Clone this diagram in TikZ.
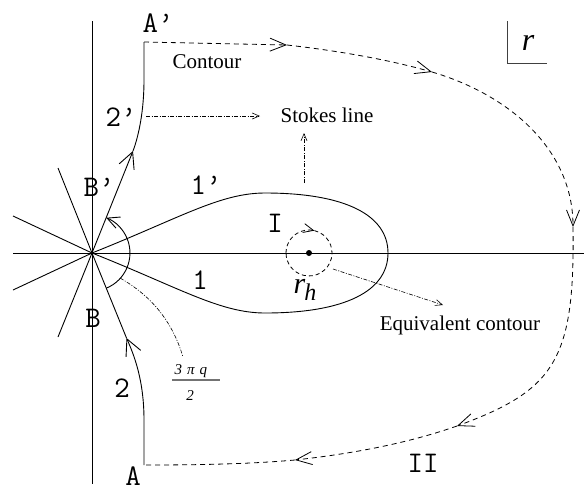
\documentclass[tikz,border=0pt]{standalone}
\usepackage{fontspec}
\setmainfont{Liberation Serif}
\usetikzlibrary{arrows.meta}
\begin{document}
\begin{tikzpicture}[x=1pt,y=-1pt,
  ln/.style={line width=0.9pt},
  dsh/.style={line width=0.8pt, dash pattern=on 5pt off 4pt},
  dshc/.style={line width=0.8pt, dash pattern=on 4pt off 3pt},
  dd/.style={line width=0.6pt, dash pattern=on 4pt off 1.5pt on 1pt off 1.5pt},
  bigtip/.style={-{Straight Barb[length=16pt,width=16pt]}},
  midtip/.style={-{Straight Barb[length=16pt,width=13pt]}},
  arctip/.style={-{Straight Barb[length=12pt,width=12pt]}},
  ctip/.style={-{Straight Barb[length=10pt,width=9pt]}},
  smtip/.style={-{Straight Barb[length=7pt,width=6pt]}},
  lab/.style={font=\ttfamily\fontsize{30}{30}\selectfont, inner sep=0pt},
  txt/.style={font=\fontsize{21}{21}\selectfont, inner sep=0pt},
]
\useasboundingbox (0,0) rectangle (584,491);
\coordinate (O) at (92,253);
\coordinate (Ap) at (144,42);
\coordinate (A) at (144,465);
\coordinate (C) at (309,253);
% axes
\draw[ln] (92,21) -- (92,484);
\draw[ln] (13,253) -- (584,253);
% star lines
\draw[ln] (13,216) -- (O);
\draw[ln] (13,290) -- (O);
\draw[ln] (58,168) -- (O);
\draw[ln] (58,337) -- (O);
% lobe
\draw[ln] (O) .. controls (180,218) and (220,193) .. (265,193)
  .. controls (345,193) and (388,215) .. (388,253)
  .. controls (388,291) and (345,313) .. (265,313)
  .. controls (220,313) and (180,288) .. (O);
% contour 2'
\draw[ln, bigtip] (O) -- (133,151);
\draw[ln] (133,151) .. controls (139,135) and (144,110) .. (144,80) -- (Ap);
% contour 2
\draw[ln, bigtip] (A) -- (144,420) .. controls (144,380) and (134,355) .. (126.5,338);
\draw[ln] (126.5,338) -- (O);
% angle arc
\draw[ln, arctip] (106.2,288.2) arc[start angle=-68, end angle=68, radius=38pt];
% big dashed contour
\draw[dsh, midtip] (Ap) -- (287,45);
\draw[dsh, midtip] (287,45) .. controls (340,51) and (390,60) .. (432,72);
\draw[dsh, midtip] (432,72) .. controls (510,95) and (573,150) .. (573,227);
\draw[dsh, midtip] (573,227) .. controls (575,360) and (555,390) .. (457,426);
\draw[dsh, midtip] (457,426) .. controls (400,446) and (340,455) .. (295,460);
\draw[dsh] (295,460) .. controls (250,464) and (200,465) .. (A);
% small circle
\fill (C) circle[radius=3pt];
\draw[dshc, ctip] (286,253) arc[start angle=180, end angle=76.5, radius=23pt];
\draw[dshc] (314.4,230.6) arc[start angle=76.5, end angle=-180, radius=23pt];
% dash-dot pointers
\draw[dd, smtip] (146,116) -- (260,116);
\draw[dd, smtip] (304,183) -- (304,133);
\draw[dd, smtip] (333,269) -- (443,305);
\draw[dd] (120,278) .. controls (150,295) and (172,320) .. (183,357);
% r frame
\draw[line width=0.9pt, black!75] (507,21) -- (507,63) -- (547,63);
% labels
\node[lab] (lAp) at (158,23) {A’};
\node[lab] (l2p) at (121,117) {2’};
\node[lab] (lBp) at (99,187) {B’};
\node[lab] (l1p) at (206,185) {1’};
\node[lab] (lI) at (275,223) {I};
\node[lab] (l1) at (200,280) {1};
\node[lab] (lB) at (93,318) {B};
\node[lab] (l2) at (122,388) {2};
\node[lab] (lA) at (133,476) {A};
\node[lab] (lII) at (423,463) {II};
\node[txt] (tC) at (207,62) {Contour};
\node[txt] (tS) at (327,115) {Stokes line};
\node[txt] (tE) at (460,325) {Equivalent contour};
\node[inner sep=0pt, font=\itshape\fontsize{32}{32}\selectfont] (lr) at (528,43) {r};
\node[inner sep=0pt, font=\itshape\fontsize{30}{30}\selectfont] (lrh) at (305,290) {r\kern-1pt\raisebox{-7pt}{\fontsize{24}{24}\selectfont h}};
% fraction
\node[inner sep=0pt, font=\itshape\fontsize{15}{15}\selectfont] (fn) at (191,371) {3\,\,π\,\,q};
\draw[line width=1.5pt, black!55] (172,380) -- (220,380);
\node[inner sep=0pt, font=\itshape\fontsize{15}{15}\selectfont] (fd) at (190,396) {2};
\end{tikzpicture}
\end{document}
